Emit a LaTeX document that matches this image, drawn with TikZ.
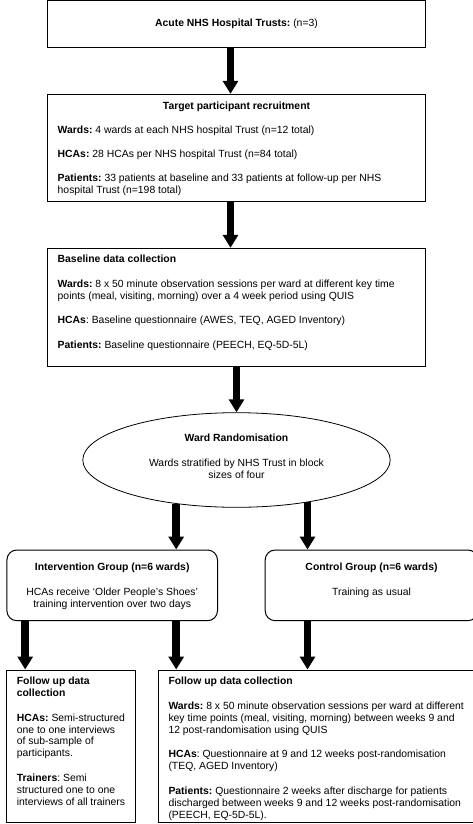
\documentclass[tikz,border=0pt]{standalone}
\usepackage{fontspec}
\setmainfont{Liberation Sans}
\usetikzlibrary{shapes.geometric,arrows.meta}
\frenchspacing

\tikzset{
	box/.style={draw, line width=1pt, rectangle, inner xsep=10pt, inner ysep=5pt, align=flush left, font=\fontsize{10.4}{11.9}\selectfont},
	groupbox/.style={box, rounded corners=10pt, align=flush center, text width=190pt, minimum height=70.7pt, text height=9.3pt, text depth=38.8pt},
	followbox/.style={box, text height=9.5pt, text depth=133.2pt},
	flow/.style={line width=7.5pt, -{Triangle[length=13pt,width=15pt]}},
}

\begin{document}
\begin{tikzpicture}[x=1pt, y=1pt, node distance=120pt]
	\useasboundingbox (0,0) rectangle (473,-824);

	\node[box, align=center, minimum width=377.6pt, minimum height=46.9pt] (1) at (236.5,-24.25) {\textbf{Acute NHS Hospital Trusts:} (n=3)};
	\node[box, text width=357.6pt, text height=10.2pt, text depth=86.5pt] (2) [below of=1, node distance=123.4pt] {\makebox[\hsize]{\textbf{Target participant recruitment}}\\[12pt]
		\textbf{Wards:} 4 wards at each NHS hospital Trust (n=12 total)\\[12pt]
		\textbf{HCAs:} 28 HCAs per NHS hospital Trust (n=84 total)\\[12pt]
		\textbf{Patients:} 33 patients at baseline and 33 patients at follow-up per NHS\\
		hospital Trust (n=198 total)};
	\node[box, text width=357.6pt, text height=9.2pt, text depth=98.5pt] (3) [below of=2, node distance=159.5pt] {\textbf{Baseline data collection}\\[12.8pt]
		\textbf{Wards:} 8 x 50 minute observation sessions per ward at different key time\\
		points (meal, visiting, morning) over a 4 week period using QUIS\\[12.8pt]
		\textbf{HCAs}: Baseline questionnaire (AWES, TEQ, AGED Inventory)\\[12.8pt]
		\textbf{Patients:} Baseline questionnaire (PEECH, EQ-5D-5L)};
	\node[ellipse, draw, line width=0.8pt, inner sep=0pt, minimum width=307.4pt, minimum height=94.6pt, align=flush center, text width=200pt, text height=7.6pt, text depth=44.6pt, font=\fontsize{10.4}{11.9}\selectfont] (4) [below of=3, node distance=152.85pt] {\textbf{Ward Randomisation}\\[12.8pt]
		Wards stratified by NHS Trust in block\\sizes of four};
	\node[groupbox, minimum width=210.6pt] (5) [below of=4, node distance=125.35pt, xshift=-124.3pt] {\textbf{Intervention Group (n=6 wards)}\\[12.8pt]
		HCAs receive `Older People's Shoes'\\training intervention over two days};
	\node[groupbox, minimum width=212.7pt] (6) [below of=4, node distance=125.35pt, xshift=135pt] {\textbf{Control Group (n=6 wards)}\\[12.8pt]
		Training as usual};
	\node[followbox, text width=108.3pt] (7) [below of=5, node distance=161pt, xshift=-41.2pt] {\rightskip=-12pt plus 1fil\relax
		\textbf{Follow up data}\\\textbf{collection}\\[12.8pt]
		\textbf{HCAs:} Semi-structured\\one to one interviews\\of sub-sample of\\participants.\\[12.8pt]
		\textbf{Trainers}: Semi\\structured one to one\\interviews of all trainers};
	\node[followbox, text width=299.4pt] (8) [below of=6, node distance=161pt, xshift=-53.3pt] {\rightskip=-12pt plus 1fil\relax
		\textbf{Follow up data collection}\\[12.8pt]
		\textbf{Wards:} 8 x 50 minute observation sessions per ward at different\\
		key time points (meal, visiting, morning) between weeks 9 and\\
		12 post-randomisation using QUIS\\[12.8pt]
		\textbf{HCAs}: Questionnaire at 9 and 12 weeks post-randomisation\\
		(TEQ, AGED Inventory)\\[12.8pt]
		\textbf{Patients:} Questionnaire 2 weeks after discharge for patients\\
		discharged between weeks 9 and 12 weeks post-randomisation\\
		(PEECH, EQ-5D-5L).};

	% x positions of the arrows into and out of the two groups
	\coordinate (i1) at ([xshift=64pt]5.north);
	\coordinate (c1) at ([xshift=-64pt]6.north);
	\coordinate (i2) at ([xshift=-87pt]5.south);
	\coordinate (i3) at ([xshift=64pt]5.south);
	\coordinate (c2) at ([xshift=-64pt]6.south);

	\draw[flow] ([xshift=-6pt]1.south) -- ([xshift=-6pt]2.north);
	\draw[flow] ([xshift=-6pt]2.south) -- ([xshift=-6pt]3.north);
	\draw[flow] (3.south -| 4.north) -- (4.north);
	\draw[flow] (i1 |- 4.215) -- (i1);
	\draw[flow] (c1 |- 4.330) -- (c1);
	\draw[flow] (i2) -- (i2 |- 7.north);
	\draw[flow] (i3) -- (i3 |- 8.north);
	\draw[flow] (c2) -- (c2 |- 8.north);
\end{tikzpicture}
\end{document}
